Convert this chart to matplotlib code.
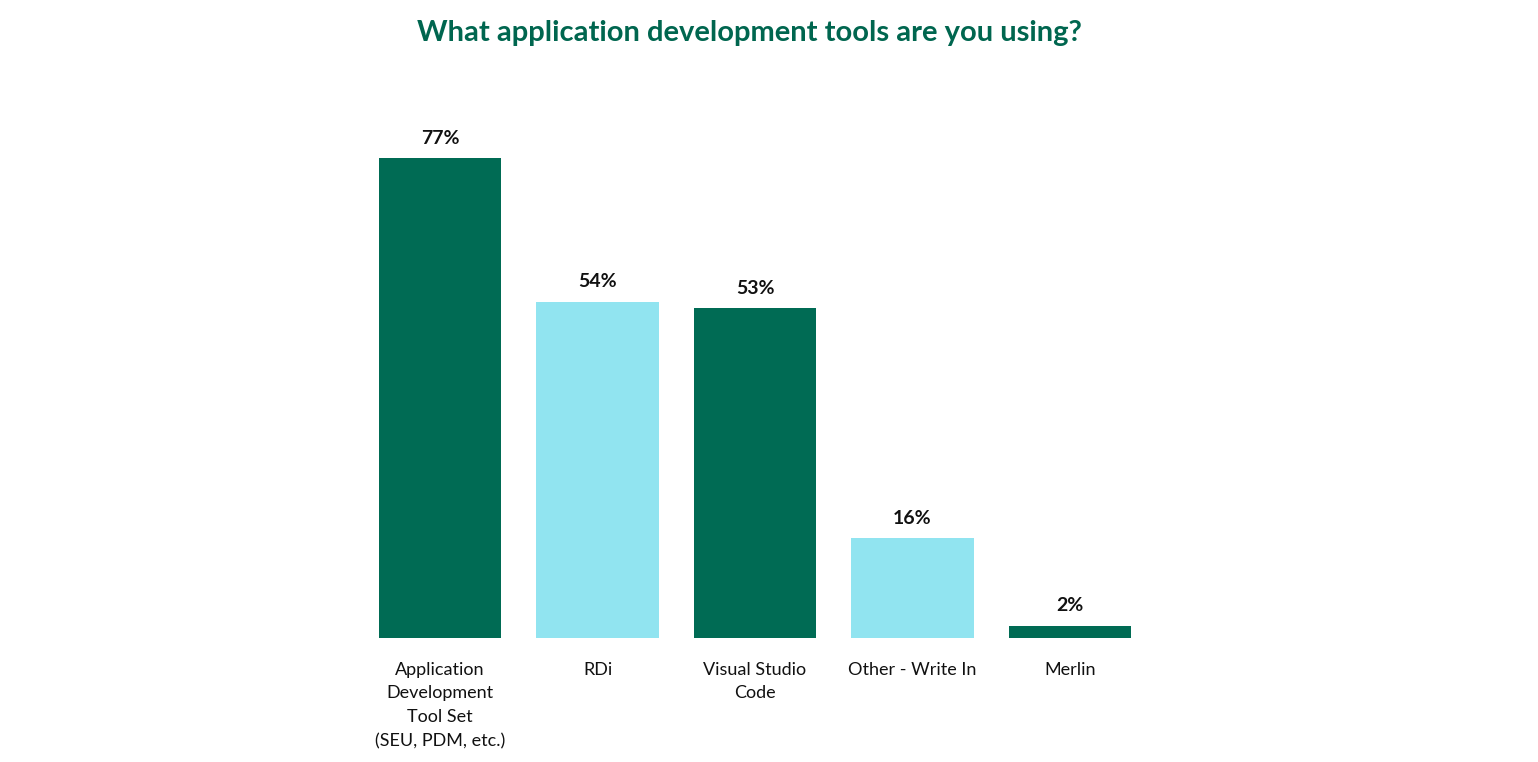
import matplotlib
matplotlib.use('Agg')
import matplotlib.pyplot as plt

# datos
herramientas = ['Application\nDevelopment\nTool Set\n(SEU, PDM, etc.)', 'RDi',
                'Visual Studio\nCode', 'Other - Write In', 'Merlin']
porcentajes = [77, 54, 53, 16, 2]
colores = ['#006B54', '#91E4F0', '#006B54', '#91E4F0', '#006B54']

plt.rcParams['font.family'] = ['Lato', 'DejaVu Sans']

fig = plt.figure(figsize=(15.38, 7.62), dpi=100)
ax = fig.add_axes([0.2349, 0.1627, 0.512, 0.6542])

pos = range(len(herramientas))
barras = ax.bar(pos, porcentajes, width=0.775, color=colores)

for b, v in zip(barras, porcentajes):
    ax.annotate(f'{v}%', (b.get_x() + b.get_width() / 2, v), xytext=(0, 8),
                textcoords='offset points', ha='center', va='bottom',
                fontsize=14, fontweight='bold', color='#111111')

ax.set_xlim(-0.5, 4.5)
ax.set_ylim(0, 80)
ax.set_xticks(list(pos))
ax.set_xticklabels(herramientas, fontsize=13, color='#111111', linespacing=1.6)
ax.tick_params(axis='x', length=0, pad=17)
ax.set_yticks([])
for s in ax.spines.values():
    s.set_visible(False)

fig.text(0.4876, 0.957, 'What application development tools are you using?',
         ha='center', va='center', fontsize=21, fontweight='bold', color='#00664F')

fig.savefig('out.png', dpi=100)
